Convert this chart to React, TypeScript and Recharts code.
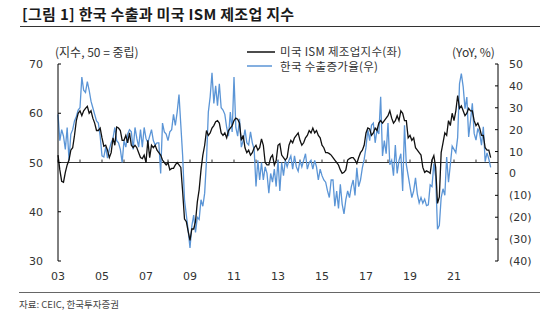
import React from "react";
import { ComposedChart, Line, XAxis, YAxis, ReferenceLine } from "recharts";

const KR = '"Noto Sans CJK KR", "Noto Sans", sans-serif';
const NUM = '"DejaVu Sans", sans-serif';

// x-axis: months since Jan 2003, one label every two years
const yearLabels = ["03", "05", "07", "09", "11", "13", "15", "17", "19", "21"];
const leftTicks = [30, 40, 50, 60, 70];
const rightTicks = [-40, -30, -20, -10, 0, 10, 20, 30, 40, 50];

// US ISM manufacturing index, monthly from Jan 2003 to Sep 2022
const ismIndex = [
  51.5, 48.5, 46.2, 46.0, 48.0, 49.5, 50.5, 52.5, 53.0, 55.5, 58.5, 60.0, // 2003
  60.5, 59.5, 60.5, 61.0, 61.4, 60.0, 60.5, 59.0, 58.0, 56.5, 56.5, 57.0, // 2004
  55.0, 53.3, 53.5, 52.5, 51.0, 52.0, 55.0, 53.5, 57.2, 57.0, 56.5, 54.5, // 2005
  54.5, 55.5, 54.0, 56.0, 53.5, 53.0, 53.5, 53.0, 52.0, 51.0, 50.8, 51.5, // 2006
  50.0, 54.5, 51.0, 53.5, 53.0, 53.5, 52.5, 52.0, 51.5, 50.5, 50.0, 49.5, // 2007
  50.0, 48.5, 48.8, 48.8, 49.5, 50.0, 49.5, 49.0, 44.0, 38.5, 38.0, 36.0, // 2008
  34.2, 36.5, 36.5, 38.0, 42.0, 44.5, 48.5, 51.5, 53.5, 56.5, 55.5, 56.0, // 2009
  57.0, 57.5, 58.3, 58.5, 58.0, 56.0, 55.5, 56.0, 55.0, 56.5, 57.0, 57.5, // 2010
  58.5, 59.0, 58.8, 58.0, 54.5, 55.5, 53.0, 52.0, 52.5, 51.5, 52.0, 53.0, // 2011
  53.5, 52.5, 53.0, 54.8, 53.5, 50.0, 49.5, 49.5, 51.0, 51.5, 49.5, 50.4, // 2012
  53.5, 53.8, 51.5, 51.0, 50.5, 51.0, 53.5, 54.5, 54.0, 55.0, 55.5, 56.0, // 2013
  54.5, 53.5, 54.0, 55.0, 55.5, 56.5, 56.0, 57.0, 56.0, 56.5, 55.5, 55.0, // 2014
  53.5, 53.0, 52.0, 52.0, 51.8, 51.5, 51.0, 50.5, 50.0, 49.5, 48.5, 47.8, // 2015
  48.0, 48.5, 50.5, 50.8, 51.0, 51.0, 50.5, 49.8, 51.0, 52.0, 52.5, 53.5, // 2016
  56.0, 57.0, 56.8, 55.5, 56.0, 57.0, 56.5, 58.0, 58.5, 58.0, 58.5, 59.0, // 2017
  59.5, 60.5, 59.0, 58.0, 58.5, 59.5, 58.5, 60.5, 60.0, 58.5, 58.5, 55.0, // 2018
  55.5, 54.5, 55.0, 53.0, 52.5, 52.0, 51.5, 49.0, 48.0, 48.3, 48.1, 47.8, // 2019
  50.5, 51.4, 49.0, 41.7, 43.0, 52.0, 54.0, 56.0, 55.5, 58.5, 57.5, 60.0, // 2020
  58.5, 60.5, 63.6, 61.0, 61.5, 60.5, 59.5, 60.0, 61.0, 60.5, 60.5, 58.5, // 2021
  57.5, 58.0, 57.0, 55.5, 55.5, 53.0, 52.5, 52.5, 51.0, // 2022
];

// Korean exports, YoY %, same months
const exportGrowth = [
  27, 15, 20, 17, 11, 21, 6, 18, 20, 24, 26, 29, // 2003
  30, 44, 38, 37, 42, 38, 33, 30, 27, 24, 23, 17, // 2004
  8, 7.5, 12, 7, 11, 14, 16, 21, 15, 14, 11, 5, // 2005
  15, 12, 18, 20, 19, 11, 21, 16, 12, 20, 12, 21, // 2006
  16, 14, 17, 20, 15, 13, 14, 14, 0, 23, 19, 18, // 2007
  15, 19, 20, 27, 22, 28, 36, 22, 8, -12, -19, -26, // 2008
  -34, -24, -19, -27, -20, -21, -12, -15, -9, 6, 28, 35, // 2009
  46, 32, 40, 31, 41, 30, 29, 27, 21, 17, 28, 19, // 2010
  44, 21, 17, 25, 12, 15, 20, 14, 13, 19, 14, 11, // 2011
  -6, 6, -3, 5, -3, 3, 0, -9, 0, -4, 2, -6, // 2012
  6, -8, 5, -1, 6, 3, 6, 8, 2, 8, 3, 1, // 2013
  6, 3, 6, 9, 2, 5, 6, 2, 6, 3, -3, 2, // 2014
  -1, -3, -4, -8, -11, -3, -3, -15, -8, -16, -5, -14, // 2015
  -18.5, -12, -8, -11, -6, -3, -10, 2.6, -6, -3, 2.5, 6.4, // 2016
  12, 20, 15, 22, 23, 14, 20, 18, 35, 8, 15, 9, // 2017
  23, 4, 6, -1, 13, 0, 6, 9, -8, 22, 4, -1, // 2018
  -6, -11, -8, -2, -9.5, -13.5, -11, -13.6, -11.7, -14.7, -14.3, -5.2, // 2019
  -6, 4.5, -1.5, -25.5, -23.7, -11, -7, -10, 7.5, -4, 4, 12.5, // 2020
  11, 9.5, 16.5, 41, 45.6, 39.7, 29.6, 34.9, 16.7, 24, 32, 18.3, // 2021
  15.2, 20.6, 18.2, 12.9, 21.3, 5.4, 9.4, 6.6, 2.8, // 2022
];

const data = ismIndex.map((ism, i) => ({ month: i, ism, exports: exportGrowth[i] }));
const labelTicks = yearLabels.map((_, i) => i * 24);
const yearMarks = Array.from({ length: 20 }, (_, i) => i * 12);

const fmtRight = (v: number) => (v < 0 ? `(${-v})` : `${v}`);

// y-axis ticks point into the plot, labels sit outside
const LeftTick = ({ x, y, payload }: any) => (
  <g>
    <line x1={x + 15} x2={x + 18} y1={y} y2={y} stroke="#000" />
    <text x={x} y={y} dy={4} textAnchor="end" fontSize={11} fill="#333" fontFamily={NUM}>
      {payload.value}
    </text>
  </g>
);

const RightTick = ({ x, y, payload }: any) => (
  <g>
    <line x1={x - 14} x2={x - 11} y1={y} y2={y} stroke="#000" />
    <text x={x} y={y} dy={4} textAnchor="start" fontSize={11} fill="#333" fontFamily={NUM}>
      {fmtRight(payload.value)}
    </text>
  </g>
);

export default function App() {
  return (
    <div style={{ position: "absolute", left: 0, top: 0, width: 543, height: 316, background: "#fff" }}>
      <ComposedChart
        width={543}
        height={316}
        data={data}
        margin={{ top: 64, right: 0, bottom: 25, left: 0 }}
      >
        <XAxis
          dataKey="month"
          type="number"
          domain={[0, 240]}
          ticks={labelTicks}
          interval={0}
          tickFormatter={(v: number) => yearLabels[Math.round(v / 24)]}
          axisLine={false}
          tickLine={false}
          tickSize={0}
          tickMargin={11}
          height={30}
          tick={{ fontSize: 11, fill: "#333", fontFamily: NUM }}
        />
        <YAxis
          yAxisId="left"
          domain={[30, 70]}
          ticks={leftTicks}
          interval={0}
          width={58}
          axisLine={{ stroke: "#000" }}
          tickLine={false}
          tickSize={0}
          tickMargin={15}
          tick={<LeftTick />}
        />
        <YAxis
          yAxisId="right"
          orientation="right"
          domain={[-40, 50]}
          ticks={rightTicks}
          interval={0}
          width={45}
          axisLine={{ stroke: "#000" }}
          tickLine={false}
          tickSize={0}
          tickMargin={11}
          tick={<RightTick />}
        />
        <ReferenceLine yAxisId="left" y={50} stroke="#333" strokeWidth={1} />
        {yearMarks.map((m) => (
          <ReferenceLine
            key={m}
            yAxisId="left"
            segment={[{ x: m, y: 50 }, { x: m, y: 50.6 }]}
            stroke="#333"
          />
        ))}
        <Line
          yAxisId="right"
          type="linear"
          dataKey="exports"
          stroke="#5B95D6"
          strokeWidth={1.3}
          dot={false}
          isAnimationActive={false}
        />
        <Line
          yAxisId="left"
          type="linear"
          dataKey="ism"
          stroke="#111"
          strokeWidth={1.3}
          dot={false}
          isAnimationActive={false}
        />
      </ComposedChart>

      <svg
        width={543}
        height={316}
        style={{ position: "absolute", left: 0, top: 0, pointerEvents: "none" }}
      >
        <text x={22} y={20} fontSize={15} letterSpacing={0.3} fontWeight={700} fill="#1a1a1a" fontFamily={KR}>
          [그림 1] 한국 수출과 미국 ISM 제조업 지수
        </text>
        <line x1={20} x2={540} y1={26.5} y2={26.5} stroke="#333" strokeWidth={1.2} />

        <text x={55} y={56.5} fontSize={12} fill="#333" fontFamily={KR}>
          (지수, 50 = 중립)
        </text>
        <text x={452} y={57} fontSize={12} fill="#333" fontFamily={KR}>
          (YoY, %)
        </text>

        <line x1={247} x2={275} y1={52} y2={52} stroke="#111" strokeWidth={1.5} />
        <text x={280} y={56} fontSize={11.5} letterSpacing={0.3} fill="#333" fontFamily={KR}>
          미국 ISM 제조업지수(좌)
        </text>
        <line x1={247} x2={272} y1={66} y2={66} stroke="#5B95D6" strokeWidth={1.5} />
        <text x={280} y={71} fontSize={11.5} letterSpacing={0.3} fill="#333" fontFamily={KR}>
          한국 수출증가율(우)
        </text>

        <line x1={19} x2={540} y1={292.5} y2={292.5} stroke="#666" strokeWidth={1} />
        <text x={19} y={308} fontSize={9.5} fill="#444" fontFamily={KR}>
          자료: CEIC, 한국투자증권
        </text>
      </svg>
    </div>
  );
}
